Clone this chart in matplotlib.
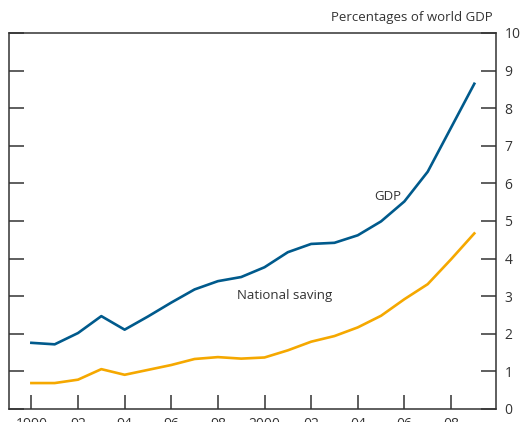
import matplotlib.pyplot as plt
import numpy as np

plt.rcParams['font.family'] = ['Open Sans', 'DejaVu Sans']

years = np.arange(1990, 2010)
gdp = [1.76, 1.72, 2.02, 2.47, 2.11, 2.46, 2.83, 3.18, 3.40, 3.51,
       3.77, 4.17, 4.39, 4.42, 4.62, 4.99, 5.52, 6.31, 7.48, 8.65]
saving = [0.69, 0.69, 0.78, 1.06, 0.91, 1.04, 1.17, 1.33, 1.38, 1.34,
          1.37, 1.56, 1.79, 1.94, 2.17, 2.48, 2.92, 3.32, 3.98, 4.67]
tick_years = np.arange(1990, 2010, 2)
tick_labels = ['1990', '92', '94', '96', '98', '2000', '02', '04', '06', '08']

dark = '#333333'
W, H = 527, 422
fig = plt.figure(figsize=(W / 100, H / 100), dpi=100)
ax = fig.add_axes([9 / W, 13 / H, 487 / W, 376 / H])

ax.plot(years, gdp, color='#005a8c', lw=1.9)
ax.plot(years, saving, color='#f5a800', lw=1.9)

ax.set_xlim(1989.04, 2009.93)
ax.set_ylim(0, 10)
ax.set_xticks(tick_years)
ax.set_xticklabels(tick_labels)
ax.set_yticks(range(11))

ax.tick_params(axis='x', direction='in', length=10, width=1.1, color=dark,
               labelsize=10, labelcolor=dark, pad=6)
ax.tick_params(axis='y', direction='in', length=10.5, width=1.1, color=dark,
               left=True, right=True, labelleft=False, labelright=True,
               labelsize=10, labelcolor=dark, pad=6)
for s in ax.spines.values():
    s.set_color(dark)
    s.set_linewidth(1.1)

# labels placed in pixel coordinates (from top-left of the picture)
ax.text(388 / W, 1 - 196 / H, 'GDP', transform=fig.transFigure,
        fontsize=9.5, color=dark, ha='center', va='center')
ax.text(285 / W, 1 - 296 / H, 'National saving', transform=fig.transFigure,
        fontsize=9.5, color=dark, ha='center', va='center')
fig.text(493 / W, 1 - 17 / H, 'Percentages of world GDP', fontsize=9.5,
         color=dark, ha='right', va='center')

fig.savefig('out.png', dpi=100)
